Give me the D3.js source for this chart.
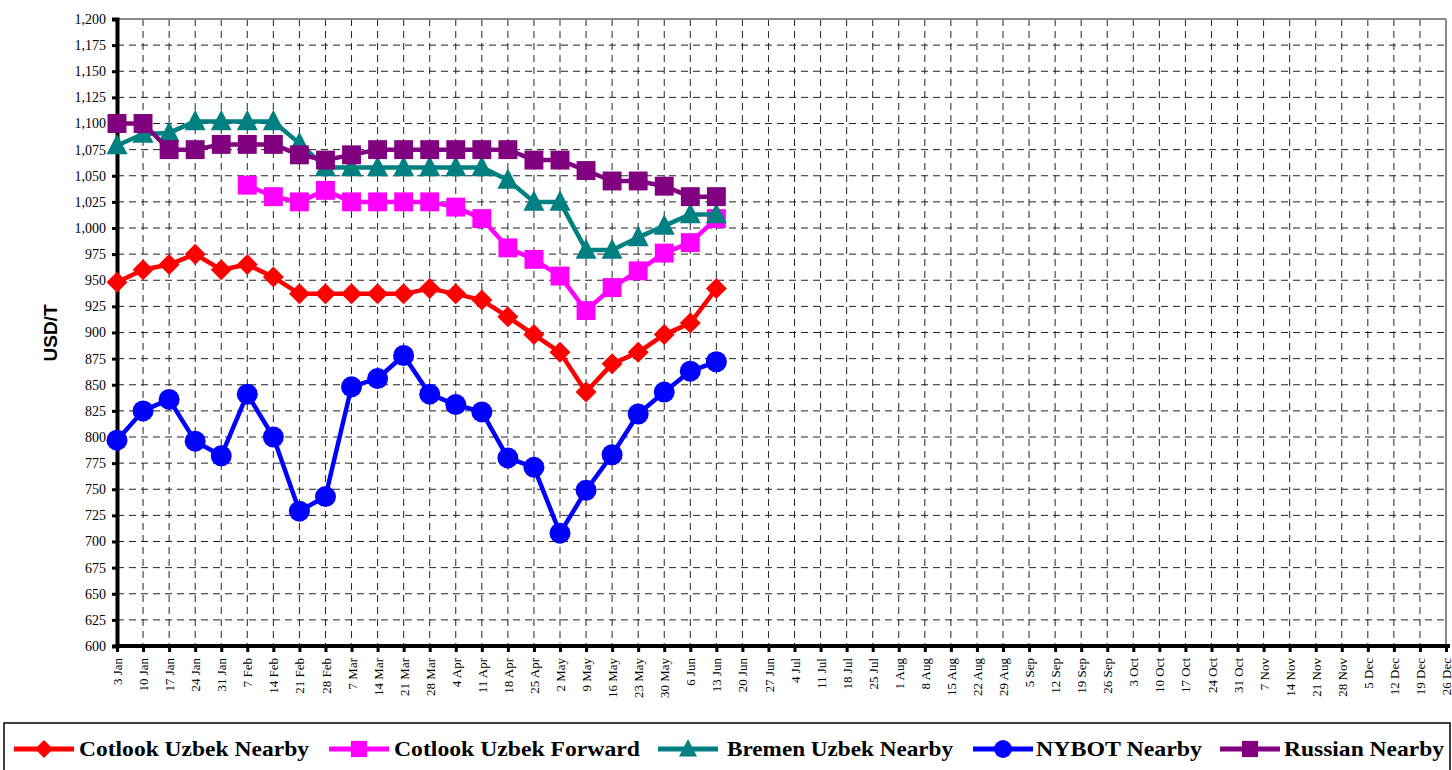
<!DOCTYPE html>
<html>
<head>
<meta charset="utf-8">
<script src="https://cdn.jsdelivr.net/npm/d3@7"></script>
<style>
  html, body { margin: 0; padding: 0; background: #fff; }
  svg { display: block; }
</style>
</head>
<body>
<svg id="chart" width="1452" height="770"></svg>
<script>
const categories = ["3 Jan","10 Jan","17 Jan","24 Jan","31 Jan","7 Feb","14 Feb","21 Feb","28 Feb","7 Mar","14 Mar","21 Mar","28 Mar","4 Apr","11 Apr","18 Apr","25 Apr","2 May","9 May","16 May","23 May","30 May","6 Jun","13 Jun","20 Jun","27 Jun","4 Jul","11 Jul","18 Jul","25 Jul","1 Aug","8 Aug","15 Aug","22 Aug","29 Aug","5 Sep","12 Sep","19 Sep","26 Sep","3 Oct","10 Oct","17 Oct","24 Oct","31 Oct","7 Nov","14 Nov","21 Nov","28 Nov","5 Dec","12 Dec","19 Dec","26 Dec"];

const cotlookNearby = [948,960,965,975,960,965,953,937,937,937,937,937,942,937,931,915,898,881,843,870,881,898,909,942];
const cotlookForward = [null,null,null,null,null,1041,1030,1025,1036,1025,1025,1025,1025,1020,1009,981,970,954,921,943,959,976,986,1009];
const bremenNearby = [1079,1090,1091,1102,1102,1102,1102,1081,1058,1058,1058,1058,1058,1058,1058,1046,1025,1025,979,979,991,1002,1013,1013];
const nybotNearby = [797,825,836,796,782,841,800,729,743,848,856,878,841,831,824,780,771,708,749,783,822,843,863,872];
const russianNearby = [1100,1100,1075,1075,1080,1080,1080,1070,1065,1070,1075,1075,1075,1075,1075,1075,1065,1065,1055,1045,1045,1040,1030,1030];

const yTicks = d3.range(600, 1201, 25);

const seriesNames = ["Cotlook Uzbek Nearby","Cotlook Uzbek Forward","Bremen Uzbek Nearby","NYBOT Nearby","Russian Nearby"];
const seriesColors = ["#ff0000","#ff00ff","#008080","#0000ff","#800080"];
const seriesShapes = ["diamond","square","triangle","circle","square"];
const seriesValues = [cotlookNearby, cotlookForward, bremenNearby, nybotNearby, russianNearby];

const svg = d3.select("#chart");
const L = 117, R = 1446, T = 19, B = 646;

const x = d3.scalePoint().domain(categories).range([L, R]);
const y = d3.scaleLinear().domain([600, 1200]).range([B, T]);

// gridlines
const grid = svg.append("g");
grid.selectAll("line.h").data(yTicks.filter(v => v > 600 && v < 1200)).join("line")
  .attr("x1", L).attr("x2", R).attr("y1", d => y(d)).attr("y2", d => y(d))
  .attr("stroke", "#222").attr("stroke-width", 1).attr("stroke-dasharray", "7,5");
grid.selectAll("line.v").data(categories.slice(1, -1)).join("line")
  .attr("x1", d => x(d)).attr("x2", d => x(d)).attr("y1", T).attr("y2", B)
  .attr("stroke", "#222").attr("stroke-width", 1).attr("stroke-dasharray", "7,5");

// plot border top/right
svg.append("line").attr("x1", L).attr("x2", R).attr("y1", T).attr("y2", T)
  .attr("stroke", "#8a8a8a").attr("stroke-width", 2);
svg.append("line").attr("x1", R).attr("x2", R).attr("y1", T).attr("y2", B)
  .attr("stroke", "#8a8a8a").attr("stroke-width", 2);

// y axis
const yAxis = d3.axisLeft(y).tickValues(yTicks).tickSize(5).tickPadding(6)
  .tickFormat(d3.format(","));
const gy = svg.append("g").attr("transform", `translate(${L},0)`).call(yAxis);
gy.select(".domain").attr("stroke", "#000").attr("stroke-width", 4);
gy.selectAll(".tick line").attr("stroke", "#000").attr("stroke-width", 3);
gy.selectAll(".tick text").attr("font-family", "'Liberation Serif', 'Times New Roman', serif")
  .attr("font-size", 14).attr("fill", "#000");

// x axis
const xAxis = d3.axisBottom(x).tickSize(6).tickPadding(5);
const gx = svg.append("g").attr("transform", `translate(0,${B})`).call(xAxis);
gx.select(".domain").attr("stroke", "#000").attr("stroke-width", 4).attr("d", `M${L-2},0H${R+4}`);
gx.selectAll(".tick line").attr("stroke", "#000").attr("stroke-width", 3);
gx.selectAll(".tick text")
  .attr("font-family", "'Liberation Serif', 'Times New Roman', serif")
  .attr("font-size", 13).attr("fill", "#000")
  .attr("transform", "rotate(-90)")
  .attr("text-anchor", "end").attr("dy", "0.35em")
  .attr("x", -12).attr("y", 0);

// y axis title
svg.append("text").attr("transform", "translate(57,333) rotate(-90)")
  .attr("text-anchor", "middle")
  .attr("font-family", "'Liberation Sans', Arial, sans-serif")
  .attr("font-weight", "bold").attr("font-size", 19).text("USD/T");

function drawMarker(g, shape, color, size) {
  const s = size;
  if (shape === "diamond") {
    g.append("path").attr("d", `M0,${-s/2}L${s/2},0L0,${s/2}L${-s/2},0Z`).attr("fill", color);
  } else if (shape === "square") {
    g.append("rect").attr("x", -s*0.45).attr("y", -s*0.45).attr("width", s*0.9).attr("height", s*0.9).attr("fill", color);
  } else if (shape === "triangle") {
    g.append("path").attr("d", `M0,${-s*0.55}L${s/2},${s*0.42}L${-s/2},${s*0.42}Z`).attr("fill", color);
  } else {
    g.append("circle").attr("r", s/2).attr("fill", color);
  }
}

const line = d3.line().defined(d => d.v != null).x(d => x(d.c)).y(d => y(d.v));

seriesValues.forEach((vals, i) => {
  const pts = vals.map((v, j) => ({ c: categories[j], v }));
  const g = svg.append("g");
  g.append("path").datum(pts).attr("d", line)
    .attr("fill", "none").attr("stroke", seriesColors[i]).attr("stroke-width", 4.5)
    .attr("stroke-linejoin", "round");
  pts.filter(p => p.v != null).forEach(p => {
    const m = g.append("g").attr("transform", `translate(${x(p.c)},${y(p.v)})`);
    drawMarker(m, seriesShapes[i], seriesColors[i], 21);
  });
});

// legend
svg.append("rect").attr("x", 4).attr("y", 723).attr("width", 1446).attr("height", 60)
  .attr("fill", "none").attr("stroke", "#000").attr("stroke-width", 1.5);
const legendLineX = [14, 329, 658, 973, 1220];
const legendTextX = [79, 394, 727, 1036, 1284];
const legendTextW = [230, 246, 226, 166, 160];
seriesNames.forEach((name, i) => {
  const g = svg.append("g");
  g.append("line").attr("x1", legendLineX[i]).attr("x2", legendLineX[i] + 60)
    .attr("y1", 749).attr("y2", 749).attr("stroke", seriesColors[i]).attr("stroke-width", 5);
  const m = g.append("g").attr("transform", `translate(${legendLineX[i] + 30},749)`);
  drawMarker(m, seriesShapes[i], seriesColors[i], 18);
  g.append("text").attr("x", legendTextX[i]).attr("y", 756)
    .attr("font-family", "'Liberation Serif', 'Times New Roman', serif")
    .attr("font-weight", "bold").attr("font-size", 22)
    .attr("textLength", legendTextW[i]).attr("lengthAdjust", "spacingAndGlyphs")
    .text(name);
});
</script>
</body>
</html>
